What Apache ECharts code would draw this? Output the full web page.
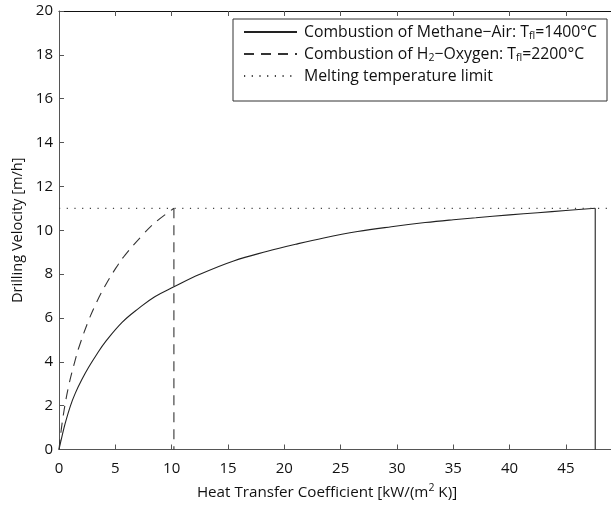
<!DOCTYPE html>
<html><head><meta charset="utf-8">
<script src="https://cdn.jsdelivr.net/npm/echarts@6/dist/echarts.min.js"></script>
<style>html,body{margin:0;padding:0;background:#fff}#c{width:611px;height:505px}</style>
</head><body><div id="c"></div>
<script>
// Heat transfer coefficient [kW/(m2 K)] and drilling velocity [m/h]
const methaneH = [0, 0.27, 0.56, 1.0, 1.45, 2.04, 2.63, 3.4, 4.1, 5.6, 7.1, 8.5, 10.2, 12.5, 15.5, 18.5, 21, 23.5, 26.5, 29.5, 32.5, 35, 37, 40, 42.5, 45, 47.6];
const methaneV = [0, 0.61, 1.21, 1.97, 2.57, 3.2, 3.75, 4.38, 4.9, 5.8, 6.45, 6.97, 7.42, 7.99, 8.6, 9.04, 9.36, 9.65, 9.94, 10.16, 10.35, 10.48, 10.57, 10.7, 10.8, 10.9, 11.0];
const methaneEndH = [47.6, 47.6];
const methaneEndV = [11.0, 0];
const h2H = [0, 0.32, 0.85, 1.45, 1.74, 2.63, 3.37, 4.11, 5.0, 5.88, 7.36, 8.55, 10.2];
const h2V = [0, 1.36, 2.88, 4.1, 4.62, 5.89, 6.75, 7.48, 8.24, 8.88, 9.75, 10.36, 11.0];
const h2EndH = [10.2, 10.2];
const h2EndV = [11.0, 0];
const limitH = [0, 49];
const limitV = [11, 11];
const xTicks = [0, 5, 10, 15, 20, 25, 30, 35, 40, 45];
const yTicks = [0, 2, 4, 6, 8, 10, 12, 14, 16, 18, 20];

const zip = (a, b) => a.map((v, i) => [v, b[i]]);
const FONT = 'Open Sans';
const chart = echarts.init(document.getElementById('c'), null, {renderer: 'canvas'});
const legendText = {
  methane: 'Combustion of Methane\u2212Air: T{sub|fl}=1400\u00b0C',
  h2: 'Combustion of H{sub|2}\u2212Oxygen: T{sub|fl}=2200\u00b0C',
  limit: 'Melting temperature limit'
};
const axisCommon = {
  type: 'value',
  axisLine: {show: true, lineStyle: {color: '#555', width: 1}},
  axisTick: {show: true, inside: true, length: 5, lineStyle: {color: '#555'}},
  splitLine: {show: false}
};
const solidStyle = {color: '#222', width: 1.1, type: 'solid'};
const dashStyle = {color: '#333', width: 1.1, type: [10, 7]};
chart.setOption({
  animation: false,
  textStyle: {fontFamily: FONT},
  grid: {left: 59, right: 0, top: 11, bottom: 53},
  legend: {
    orient: 'vertical', left: 233, top: 19,
    padding: [5, 10, 17, 10],
    borderColor: '#333', borderWidth: 1, backgroundColor: '#fff',
    itemWidth: 53, itemHeight: 14, itemGap: 4,
    itemStyle: {color: 'rgba(0,0,0,0)', borderColor: 'rgba(0,0,0,0)', borderWidth: 0, opacity: 0},
    data: ['methane', 'h2', 'limit'],
    formatter: n => legendText[n],
    textStyle: {fontFamily: FONT, fontSize: 15.8, color: '#111', padding: [0, 0, 0, 2],
      rich: {sub: {fontFamily: FONT, fontSize: 10.5, color: '#111', padding: [9, 0, 0, 0]}}}
  },
  xAxis: [
    Object.assign({}, axisCommon, {
      min: 0, max: 49, interval: 5, position: 'bottom',
      axisLabel: {fontFamily: FONT, fontSize: 15, color: '#111', margin: 12, showMaxLabel: false,
        formatter: v => xTicks.includes(v) ? String(v) : ''},
      name: 'Heat Transfer Coefficient [kW/(m{sup|2} K)]',
      nameLocation: 'middle', nameGap: 33,
      nameTextStyle: {fontFamily: FONT, fontSize: 15.2, color: '#111', padding: [0, 16, 0, 0],
        rich: {sup: {fontFamily: FONT, fontSize: 10.5, color: '#111', padding: [0, 0, 9, 0]}}}
    }),
    Object.assign({}, axisCommon, {
      min: 0, max: 49, interval: 5, position: 'top',
      axisLine: {show: true, lineStyle: {color: '#111', width: 1}},
      axisLabel: {show: false}
    })
  ],
  yAxis: Object.assign({}, axisCommon, {
    min: 0, max: 20, interval: 2,
    axisLabel: {fontFamily: FONT, fontSize: 15, color: '#111', margin: 6,
      formatter: v => yTicks.includes(v) ? String(v) : ''},
    name: 'Drilling Velocity [m/h]', nameLocation: 'middle', nameGap: 33,
    nameTextStyle: {fontFamily: FONT, fontSize: 14.6, color: '#111'}
  }),
  series: [
    {name: 'methane', type: 'line', data: zip(methaneH, methaneV), symbol: 'none', showSymbol: false,
      smooth: 0.4, lineStyle: solidStyle, itemStyle: {color: '#222'}},
    {name: 'methane', type: 'line', data: zip(methaneEndH, methaneEndV), symbol: 'none', showSymbol: false,
      lineStyle: solidStyle, itemStyle: {color: '#222'}},
    {name: 'h2', type: 'line', data: zip(h2H, h2V), symbol: 'none', showSymbol: false,
      smooth: 0.4, lineStyle: dashStyle, itemStyle: {color: '#333'}},
    {name: 'h2', type: 'line', data: zip(h2EndH, h2EndV), symbol: 'none', showSymbol: false,
      lineStyle: dashStyle, itemStyle: {color: '#333'}},
    {name: 'limit', type: 'line', data: zip(limitH, limitV), symbol: 'none', showSymbol: false,
      lineStyle: {color: '#444', width: 1.2, type: [1.2, 6.5]}, itemStyle: {color: '#444'}}
  ]
});
</script></body></html>
